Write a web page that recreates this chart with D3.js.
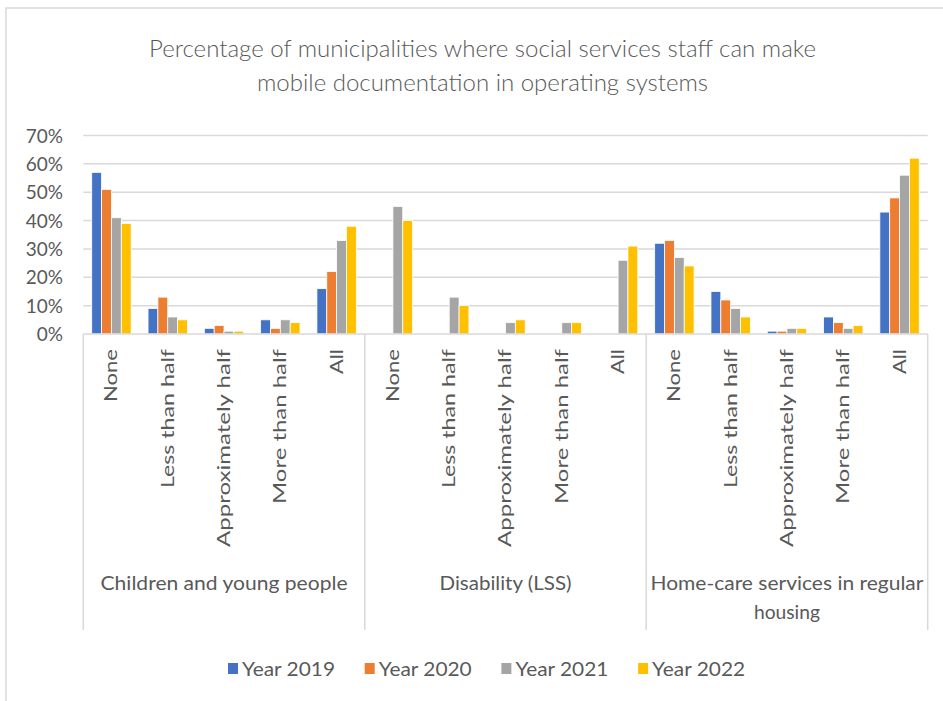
<!DOCTYPE html>
<html>
<head>
<meta charset="utf-8">
<script src="https://cdn.jsdelivr.net/npm/d3@7"></script>
<style>
  html, body { margin: 0; padding: 0; background: #fff; }
  svg { display: block; }
  text { font-family: Lato, "Open Sans", sans-serif; fill: #595959; }
</style>
</head>
<body>
<script>
// ---- Data ----
const titleLines = ["Percentage of municipalities where social services staff can make",
                    "mobile documentation in operating systems"];
const groups = ["Children and young people", "Disability (LSS)", "Home-care services in regular housing"];
const subcategories = ["None", "Less than half", "Approximately half", "More than half", "All"];
const seriesNames = ["Year 2019", "Year 2020", "Year 2021", "Year 2022"];
const seriesColors = ["#4472C4", "#ED7D31", "#A5A5A5", "#FFC000"];
// values in percent, per group, per subcategory (rows), per series (columns); null = no data
const childrenValues = [[57, 51, 41, 39], [9, 13, 6, 5], [2, 3, 1, 1], [5, 2, 5, 4], [16, 22, 33, 38]];
const disabilityValues = [[null, null, 45, 40], [null, null, 13, 10], [null, null, 4, 5], [null, null, 4, 4], [null, null, 26, 31]];
const homeCareValues = [[32, 33, 27, 24], [15, 12, 9, 6], [1, 1, 2, 2], [6, 4, 2, 3], [43, 48, 56, 62]];
const yTicks = [0, 10, 20, 30, 40, 50, 60, 70];

const groupValues = [childrenValues, disabilityValues, homeCareValues];

// ---- Layout ----
const W = 943, H = 701;
const plotLeft = 83.3, plotRight = 927.7, plotTop = 135.5, plotBottom = 334;
const axisBottom = 630;

const svg = d3.select("body").append("svg").attr("width", W).attr("height", H);

// chart frame
svg.append("rect").attr("x", 6).attr("y", 8).attr("width", 960).attr("height", 720)
  .attr("fill", "none").attr("stroke", "#d9d9d9").attr("stroke-width", 1.5);

// title
const titleSpecs = [{y: 57, len: 667}, {y: 91, len: 451}];
svg.selectAll("text.title").data(titleLines).join("text")
  .attr("class", "title")
  .attr("x", (W + 20) / 2 + 1).attr("y", (d, i) => titleSpecs[i].y)
  .attr("text-anchor", "middle")
  .attr("font-size", 23)
  .attr("font-weight", 300)
  .attr("textLength", (d, i) => titleSpecs[i].len)
  .attr("lengthAdjust", "spacingAndGlyphs")
  .text(d => d);

// flat slot keys
const slots = [];
groups.forEach((g, gi) => subcategories.forEach((s, si) => slots.push({g, gi, s, si, key: gi + "|" + si})));

const x = d3.scaleBand().domain(slots.map(d => d.key)).range([plotLeft, plotRight])
  .paddingInner(0.3).paddingOuter(0.15);
const xs = d3.scaleBand().domain(seriesNames).range([0, x.bandwidth()]).padding(0);
const y = d3.scaleLinear().domain([0, 70]).range([plotBottom, plotTop]);

// gridlines
svg.append("g").selectAll("line").data(yTicks.filter(t => t > 0)).join("line")
  .attr("x1", plotLeft).attr("x2", plotRight)
  .attr("y1", d => y(d)).attr("y2", d => y(d))
  .attr("stroke", "#d9d9d9").attr("stroke-width", 1.5);

// y axis labels
const yAxis = d3.axisLeft(y).tickValues(yTicks).tickFormat(d => d + "%").tickSize(0).tickPadding(0);
const yg = svg.append("g").attr("transform", `translate(63,0)`).call(yAxis);
yg.select(".domain").remove();
yg.selectAll("text").attr("font-size", 19).attr("fill", "#595959")
  .style("font-family", "Lato, 'Open Sans', sans-serif").attr("dy", "0.35em");

// bars
const barData = [];
slots.forEach(sl => {
  seriesNames.forEach((sn, k) => {
    const v = groupValues[sl.gi][sl.si][k];
    if (v !== null) barData.push({key: sl.key, series: sn, k, v});
  });
});
svg.append("g").selectAll("rect").data(barData).join("rect")
  .attr("x", d => x(d.key) + xs(d.series))
  .attr("width", xs.bandwidth())
  .attr("y", d => y(d.v))
  .attr("height", d => y(0) - y(d.v))
  .attr("fill", d => seriesColors[d.k])
  .attr("stroke", "#fff").attr("stroke-width", 0.8);

// horizontal axis line
svg.append("line").attr("x1", plotLeft).attr("x2", plotRight)
  .attr("y1", plotBottom).attr("y2", plotBottom)
  .attr("stroke", "#d9d9d9").attr("stroke-width", 1.5);

// group separators
const groupEdges = [plotLeft, plotLeft + (plotRight - plotLeft) / 3, plotLeft + 2 * (plotRight - plotLeft) / 3, plotRight];
svg.append("g").selectAll("line").data(groupEdges).join("line")
  .attr("x1", d => d).attr("x2", d => d)
  .attr("y1", plotBottom).attr("y2", axisBottom)
  .attr("stroke", "#d9d9d9").attr("stroke-width", 1.5);

// rotated subcategory labels
const subLen = {"None": 53, "Less than half": 139, "Approximately half": 198, "More than half": 155, "All": 25};
svg.append("g").selectAll("text").data(slots).join("text")
  .attr("transform", d => `translate(${x(d.key) + x.bandwidth() / 2},${349}) rotate(-90)`)
  .attr("text-anchor", "end")
  .attr("dy", "0.36em")
  .attr("font-size", 16.5)
  .attr("textLength", d => subLen[d.s])
  .attr("lengthAdjust", "spacingAndGlyphs")
  .text(d => d.s);

// group labels
const groupLabelLines = [["Children and young people"], ["Disability (LSS)"], ["Home-care services in regular", "housing"]];
const groupLabelLens = [[247], [132], [273, 66]];
groupLabelLines.forEach((lines, gi) => {
  const cx = (groupEdges[gi] + groupEdges[gi + 1]) / 2;
  lines.forEach((ln, li) => {
    svg.append("text")
      .attr("x", cx).attr("y", 590 + li * 29)
      .attr("text-anchor", "middle")
      .attr("font-size", 19.5)
      .attr("textLength", groupLabelLens[gi][li])
      .attr("lengthAdjust", "spacingAndGlyphs")
      .text(ln);
  });
});

// legend
const legendX0 = 228, legendStep = 136.7, legendY = 676;
const lg = svg.append("g").selectAll("g").data(seriesNames).join("g")
  .attr("transform", (d, i) => `translate(${legendX0 + i * legendStep},${legendY})`);
lg.append("rect").attr("x", 0).attr("y", -13).attr("width", 10).attr("height", 11)
  .attr("fill", (d, i) => seriesColors[i]);
lg.append("text").attr("x", 14).attr("y", 0).attr("font-size", 20)
  .attr("textLength", 93).attr("lengthAdjust", "spacingAndGlyphs")
  .text(d => d);
</script>
</body>
</html>
